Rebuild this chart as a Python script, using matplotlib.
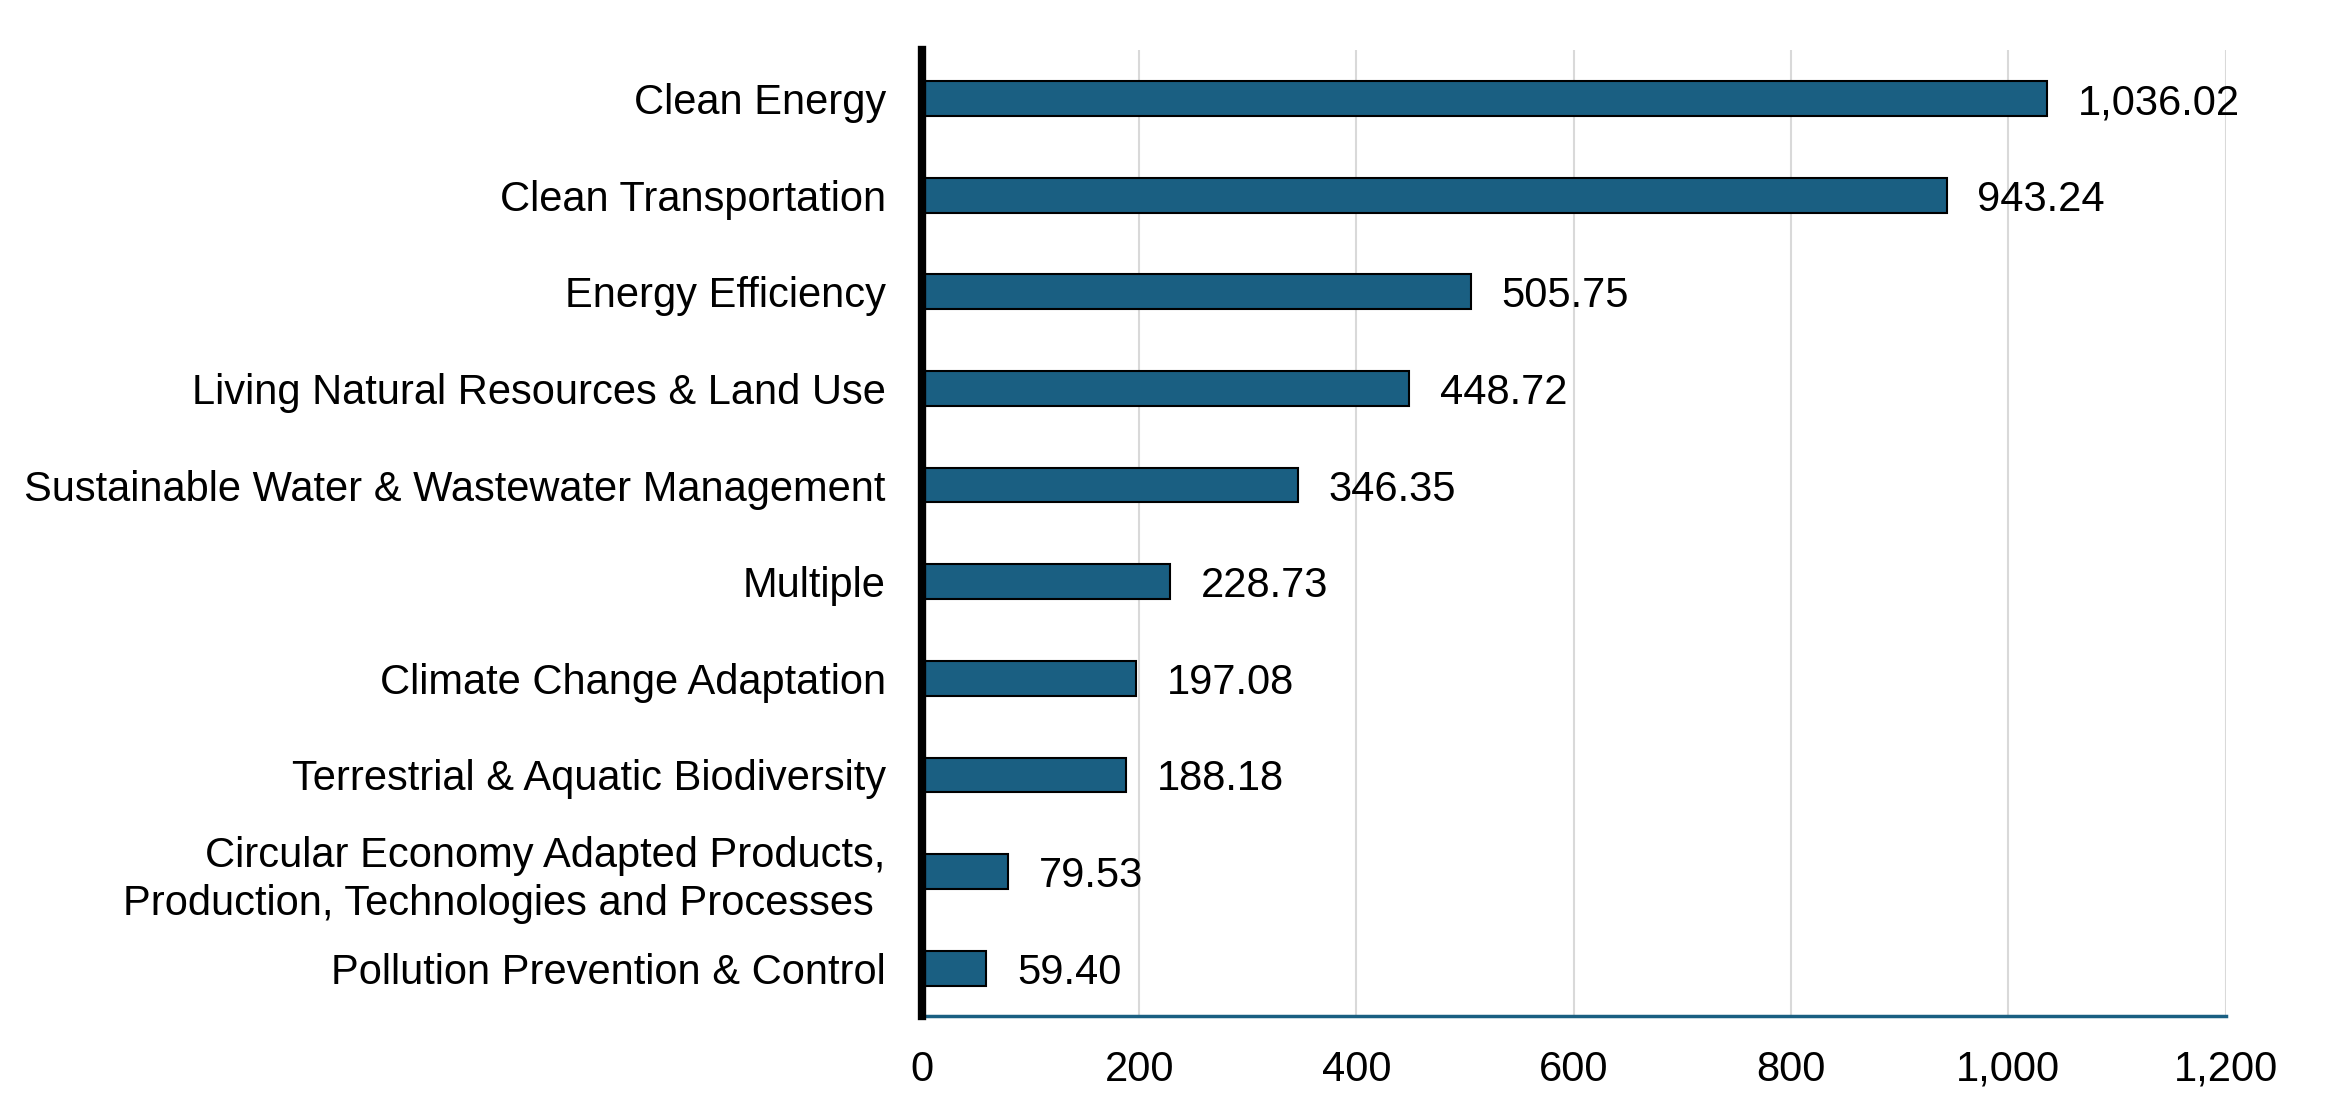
import matplotlib.pyplot as plt
from matplotlib.ticker import FuncFormatter

categories = [
    "Clean Energy",
    "Clean Transportation",
    "Energy Efficiency",
    "Living Natural Resources & Land Use",
    "Sustainable Water & Wastewater Management",
    "Multiple",
    "Climate Change Adaptation",
    "Terrestrial & Aquatic Biodiversity",
    "Circular Economy Adapted Products,\nProduction, Technologies and Processes ",
    "Pollution Prevention & Control",
]
values = [1036.02, 943.24, 505.75, 448.72, 346.35, 228.73, 197.08, 188.18, 79.53, 59.40]

bar_color = "#1a5f82"

plt.rcParams["font.family"] = ["Liberation Sans", "DejaVu Sans"]

fig = plt.figure(figsize=(23.28, 11.17), dpi=100)
ax = fig.add_axes([0.396, 0.090, 0.560, 0.865])

y = list(range(len(categories)))
ax.barh(y, values, height=0.36, color=bar_color, edgecolor="black", linewidth=1.5, zorder=3)

for yi, v in zip(y, values):
    ax.text(v + 28, yi, f"{v:,.2f}", va="center_baseline", ha="left", fontsize=30)

ax.set_xlim(0, 1200)
ax.set_ylim(len(categories) - 0.5, -0.5)
ax.set_yticks(y)
ax.set_yticklabels(categories, fontsize=30, linespacing=1.25)
ax.set_xticks(range(0, 1201, 200))
ax.xaxis.set_major_formatter(FuncFormatter(lambda x, p: f"{int(x):,}"))
ax.tick_params(axis="x", labelsize=30, length=0, pad=24)
ax.tick_params(axis="y", length=0, pad=26)

ax.grid(axis="x", color="#d9d9d9", linewidth=1.5, zorder=0)
ax.set_axisbelow(True)

for s in ["top", "right"]:
    ax.spines[s].set_visible(False)
ax.spines["left"].set_linewidth(6)
ax.spines["left"].set_color("black")
ax.spines["left"].set_zorder(4)
ax.spines["bottom"].set_linewidth(2.5)
ax.spines["bottom"].set_color(bar_color)

fig.savefig("out.png", dpi=100)
